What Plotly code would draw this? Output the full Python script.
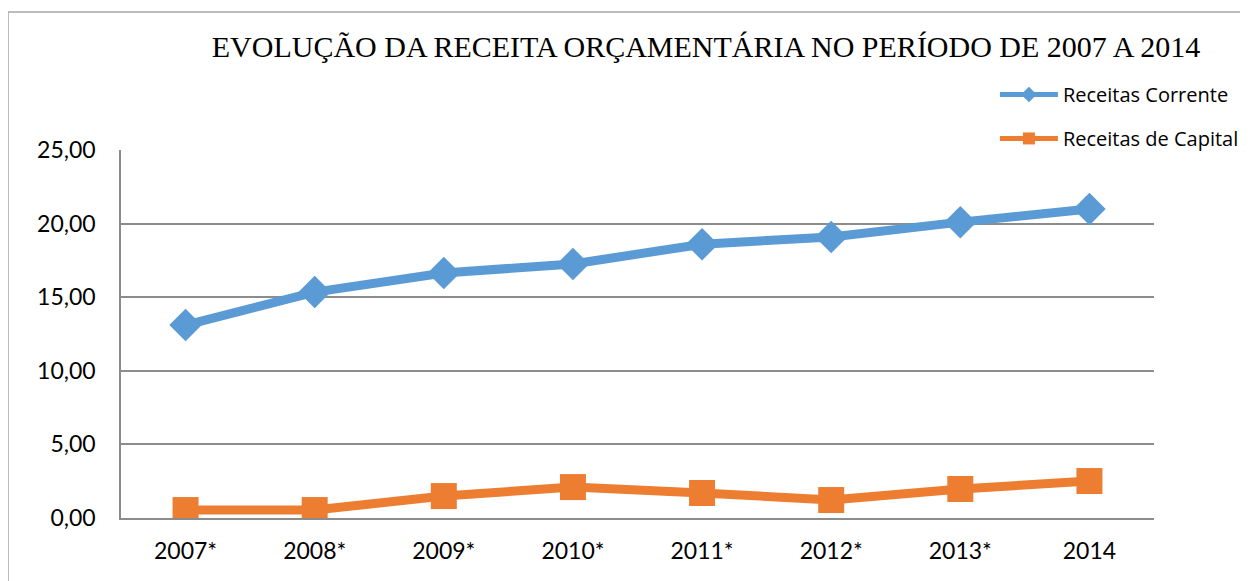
import plotly.graph_objects as go

anos = ["2007*", "2008*", "2009*", "2010*", "2011*", "2012*", "2013*", "2014"]
receitas_corrente = [13.11, 15.35, 16.64, 17.26, 18.60, 19.09, 20.10, 20.99]
receitas_capital = [0.54, 0.54, 1.49, 2.10, 1.70, 1.22, 1.97, 2.51]

titulo = "EVOLUÇÃO DA RECEITA ORÇAMENTÁRIA NO PERÍODO DE 2007 A 2014"
AZUL = "#5B9BD5"
LARANJA = "#ED7D31"

# page body has an 8px margin; figure coordinates = page coordinates - 8
W, H = 1240, 573

fig = go.Figure()
fig.add_trace(go.Scatter(
    x=anos, y=receitas_corrente, name="Receitas Corrente", mode="lines+markers",
    line=dict(color=AZUL, width=9),
    marker=dict(symbol="diamond", size=25, color=AZUL),
    legendgroup="a",
))
fig.add_trace(go.Scatter(
    x=anos, y=receitas_capital, name="Receitas de Capital", mode="lines+markers",
    line=dict(color=LARANJA, width=9),
    marker=dict(symbol="square", size=26, color=LARANJA),
    legendgroup="b",
))

fig.update_layout(
    width=W, height=H,
    margin=dict(l=113, r=94, t=142, b=63, autoexpand=False),
    paper_bgcolor="white", plot_bgcolor="white",
    separators=",.",
    font=dict(family="Lato, Calibri, sans-serif", color="#000000"),
    title=dict(text=titulo, font=dict(family="Liberation Serif, Times New Roman, serif", size=30, color="#000000"),
               xref="container", x=698 / W, xanchor="center", yref="container", y=1 - 38 / H, yanchor="middle"),
    legend=dict(x=0.846, xanchor="left", y=1.204, yanchor="top", itemwidth=58,
                font=dict(size=20, family="Open Sans, Calibri, sans-serif"), tracegroupgap=15,
                bgcolor="rgba(0,0,0,0)", itemsizing="constant"),
    showlegend=True,
)
fig.update_xaxes(
    type="category", range=[-0.5, 7.5], showgrid=False, showline=True, linecolor="#8C8C8C", linewidth=1.5,
    ticks="", tickfont=dict(size=23), ticklabelstandoff=12, zeroline=False,
)
fig.update_yaxes(
    range=[0, 25], dtick=5, tickformat=".2f", showgrid=True, gridcolor="#8C8C8C", gridwidth=1.5,
    showline=True, linecolor="#8C8C8C", linewidth=1.5, ticks="", tickfont=dict(size=23),
    ticklabelstandoff=19, zeroline=False,
)
fig.add_shape(type="rect", xref="paper", yref="paper", x0=(8 - 121) / 1033, x1=1.3,
              y0=-0.3, y1=(518 - 12) / 368, line=dict(color="#A6A6A6", width=1.5), layer="below")

fig.write_html("out.html")
